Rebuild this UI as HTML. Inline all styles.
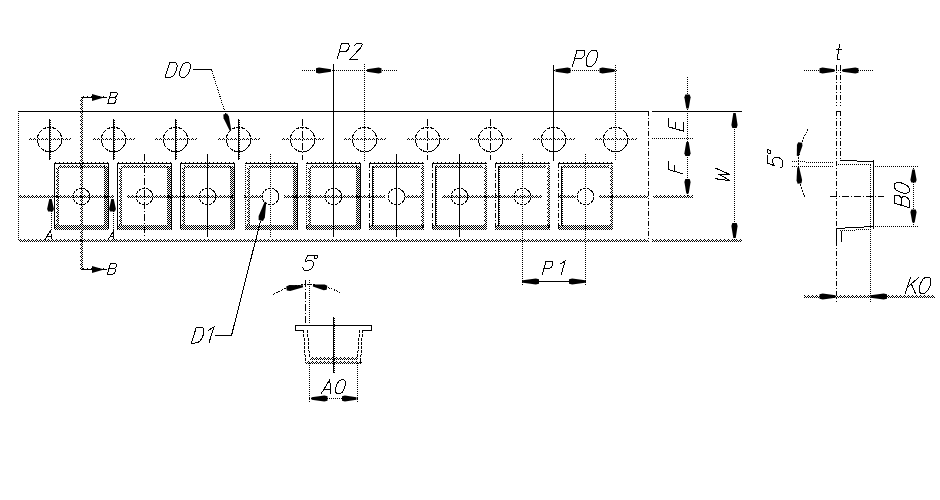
<!DOCTYPE html>
<html><head><meta charset="utf-8"><style>
html,body{margin:0;padding:0;background:#fff;width:940px;height:500px;overflow:hidden}
svg{display:block}
.g path{fill:none;stroke:#000;stroke-width:1;vector-effect:non-scaling-stroke}
</style></head><body>
<svg width="940" height="500" viewBox="0 0 940 500" shape-rendering="crispEdges">
<defs>
<pattern id="chk" width="2" height="2" patternUnits="userSpaceOnUse"><rect x="0" y="0" width="1" height="1"/><rect x="1" y="1" width="1" height="1"/></pattern>
<pattern id="hz0" x="0" y="0" width="4" height="3" patternUnits="userSpaceOnUse"><rect x="0" y="0" width="1" height="1"/><rect x="1" y="1" width="1" height="1"/><rect x="3" y="1" width="1" height="1"/><rect x="0" y="2" width="1" height="1"/><rect x="2" y="2" width="1" height="1"/></pattern><pattern id="hz1" x="0" y="1" width="4" height="3" patternUnits="userSpaceOnUse"><rect x="0" y="0" width="1" height="1"/><rect x="1" y="1" width="1" height="1"/><rect x="3" y="1" width="1" height="1"/><rect x="0" y="2" width="1" height="1"/><rect x="2" y="2" width="1" height="1"/></pattern><pattern id="hz2" x="0" y="2" width="4" height="3" patternUnits="userSpaceOnUse"><rect x="0" y="0" width="1" height="1"/><rect x="1" y="1" width="1" height="1"/><rect x="3" y="1" width="1" height="1"/><rect x="0" y="2" width="1" height="1"/><rect x="2" y="2" width="1" height="1"/></pattern><pattern id="vz0" x="0" y="0" width="3" height="4" patternUnits="userSpaceOnUse"><rect x="0" y="0" width="1" height="1"/><rect x="1" y="1" width="1" height="1"/><rect x="1" y="3" width="1" height="1"/><rect x="2" y="0" width="1" height="1"/><rect x="2" y="2" width="1" height="1"/></pattern><pattern id="vz1" x="1" y="0" width="3" height="4" patternUnits="userSpaceOnUse"><rect x="0" y="0" width="1" height="1"/><rect x="1" y="1" width="1" height="1"/><rect x="1" y="3" width="1" height="1"/><rect x="2" y="0" width="1" height="1"/><rect x="2" y="2" width="1" height="1"/></pattern><pattern id="vz2" x="2" y="0" width="3" height="4" patternUnits="userSpaceOnUse"><rect x="0" y="0" width="1" height="1"/><rect x="1" y="1" width="1" height="1"/><rect x="1" y="3" width="1" height="1"/><rect x="2" y="0" width="1" height="1"/><rect x="2" y="2" width="1" height="1"/></pattern><pattern id="hc0" x="0" y="0" width="4" height="3" patternUnits="userSpaceOnUse"><rect x="0" y="0" width="1" height="1"/><rect x="2" y="0" width="1" height="1"/><rect x="0" y="1" width="1" height="1"/><rect x="1" y="1" width="1" height="1"/><rect x="3" y="1" width="1" height="1"/><rect x="2" y="2" width="1" height="1"/></pattern><pattern id="hc1" x="0" y="1" width="4" height="3" patternUnits="userSpaceOnUse"><rect x="0" y="0" width="1" height="1"/><rect x="2" y="0" width="1" height="1"/><rect x="0" y="1" width="1" height="1"/><rect x="1" y="1" width="1" height="1"/><rect x="3" y="1" width="1" height="1"/><rect x="2" y="2" width="1" height="1"/></pattern><pattern id="hc2" x="0" y="2" width="4" height="3" patternUnits="userSpaceOnUse"><rect x="0" y="0" width="1" height="1"/><rect x="2" y="0" width="1" height="1"/><rect x="0" y="1" width="1" height="1"/><rect x="1" y="1" width="1" height="1"/><rect x="3" y="1" width="1" height="1"/><rect x="2" y="2" width="1" height="1"/></pattern><pattern id="vc0" x="0" y="0" width="3" height="4" patternUnits="userSpaceOnUse"><rect x="0" y="0" width="1" height="1"/><rect x="0" y="2" width="1" height="1"/><rect x="1" y="0" width="1" height="1"/><rect x="1" y="1" width="1" height="1"/><rect x="1" y="3" width="1" height="1"/><rect x="2" y="2" width="1" height="1"/></pattern><pattern id="vc1" x="1" y="0" width="3" height="4" patternUnits="userSpaceOnUse"><rect x="0" y="0" width="1" height="1"/><rect x="0" y="2" width="1" height="1"/><rect x="1" y="0" width="1" height="1"/><rect x="1" y="1" width="1" height="1"/><rect x="1" y="3" width="1" height="1"/><rect x="2" y="2" width="1" height="1"/></pattern><pattern id="vc2" x="2" y="0" width="3" height="4" patternUnits="userSpaceOnUse"><rect x="0" y="0" width="1" height="1"/><rect x="0" y="2" width="1" height="1"/><rect x="1" y="0" width="1" height="1"/><rect x="1" y="1" width="1" height="1"/><rect x="1" y="3" width="1" height="1"/><rect x="2" y="2" width="1" height="1"/></pattern>
</defs>
<line x1="18" y1="111.5" x2="648" y2="111.5" stroke="#000"/>
<line x1="18.5" y1="111" x2="18.5" y2="241" stroke="#000" stroke-dasharray="1 1"/>
<rect x="19" y="239" width="629" height="3" fill="url(#hz2)"/>
<line x1="648.5" y1="111" x2="648.5" y2="242" stroke="#000" stroke-dasharray="5 2 1 2"/>
<circle cx="49.5" cy="139.5" r="12.2" fill="none" stroke="#000" stroke-dasharray="4 1"/>
<line x1="29" y1="139.5" x2="71" y2="139.5" stroke="#000" stroke-dasharray="1 1"/>
<line x1="30" y1="138.5" x2="71" y2="138.5" stroke="#000" stroke-dasharray="1 3"/>
<line x1="49.5" y1="119" x2="49.5" y2="160" stroke="#000"/>
<line x1="50.5" y1="120" x2="50.5" y2="160" stroke="#000" stroke-dasharray="1 1"/>
<circle cx="113.5" cy="139.5" r="12.2" fill="none" stroke="#000" stroke-dasharray="4 1"/>
<line x1="93" y1="139.5" x2="135" y2="139.5" stroke="#000" stroke-dasharray="1 1"/>
<line x1="94" y1="138.5" x2="135" y2="138.5" stroke="#000" stroke-dasharray="1 3"/>
<line x1="113.5" y1="119" x2="113.5" y2="160" stroke="#000"/>
<line x1="114.5" y1="120" x2="114.5" y2="160" stroke="#000" stroke-dasharray="1 1"/>
<circle cx="175.5" cy="139.5" r="12.2" fill="none" stroke="#000" stroke-dasharray="4 1"/>
<line x1="155" y1="139.5" x2="197" y2="139.5" stroke="#000" stroke-dasharray="1 1"/>
<line x1="156" y1="138.5" x2="197" y2="138.5" stroke="#000" stroke-dasharray="1 3"/>
<line x1="175.5" y1="119" x2="175.5" y2="160" stroke="#000"/>
<line x1="176.5" y1="120" x2="176.5" y2="160" stroke="#000" stroke-dasharray="1 1"/>
<circle cx="238.5" cy="139.5" r="12.2" fill="none" stroke="#000" stroke-dasharray="4 1"/>
<line x1="218" y1="139.5" x2="260" y2="139.5" stroke="#000" stroke-dasharray="1 1"/>
<line x1="219" y1="138.5" x2="260" y2="138.5" stroke="#000" stroke-dasharray="1 3"/>
<line x1="238.5" y1="119" x2="238.5" y2="160" stroke="#000"/>
<line x1="239.5" y1="120" x2="239.5" y2="160" stroke="#000" stroke-dasharray="1 1"/>
<circle cx="302.5" cy="139.5" r="12.2" fill="none" stroke="#000" stroke-dasharray="4 1"/>
<line x1="282" y1="139.5" x2="324" y2="139.5" stroke="#000" stroke-dasharray="1 1"/>
<line x1="283" y1="138.5" x2="324" y2="138.5" stroke="#000" stroke-dasharray="1 3"/>
<line x1="302.5" y1="119" x2="302.5" y2="160" stroke="#000" stroke-dasharray="7 2 1 2"/>
<circle cx="364.5" cy="139.5" r="12.2" fill="none" stroke="#000" stroke-dasharray="4 1"/>
<line x1="344" y1="139.5" x2="386" y2="139.5" stroke="#000" stroke-dasharray="1 1"/>
<line x1="345" y1="138.5" x2="386" y2="138.5" stroke="#000" stroke-dasharray="1 3"/>
<circle cx="427.5" cy="139.5" r="12.2" fill="none" stroke="#000" stroke-dasharray="4 1"/>
<line x1="407" y1="139.5" x2="449" y2="139.5" stroke="#000" stroke-dasharray="1 1"/>
<line x1="408" y1="138.5" x2="449" y2="138.5" stroke="#000" stroke-dasharray="1 3"/>
<line x1="427.5" y1="119" x2="427.5" y2="160" stroke="#000" stroke-dasharray="7 2 1 2"/>
<circle cx="490.5" cy="139.5" r="12.2" fill="none" stroke="#000" stroke-dasharray="4 1"/>
<line x1="470" y1="139.5" x2="512" y2="139.5" stroke="#000" stroke-dasharray="1 1"/>
<line x1="471" y1="138.5" x2="512" y2="138.5" stroke="#000" stroke-dasharray="1 3"/>
<line x1="490.5" y1="119" x2="490.5" y2="160" stroke="#000" stroke-dasharray="7 2 1 2"/>
<circle cx="553.5" cy="139.5" r="12.2" fill="none" stroke="#000" stroke-dasharray="4 1"/>
<line x1="533" y1="139.5" x2="575" y2="139.5" stroke="#000" stroke-dasharray="1 1"/>
<line x1="534" y1="138.5" x2="575" y2="138.5" stroke="#000" stroke-dasharray="1 3"/>
<circle cx="615.5" cy="139.5" r="12.2" fill="none" stroke="#000" stroke-dasharray="4 1"/>
<line x1="595" y1="139.5" x2="637" y2="139.5" stroke="#000" stroke-dasharray="1 1"/>
<line x1="596" y1="138.5" x2="637" y2="138.5" stroke="#000" stroke-dasharray="1 3"/>
<line x1="54" y1="163.5" x2="109" y2="163.5" stroke="#000"/>
<line x1="55" y1="162.5" x2="109" y2="162.5" stroke="#000" stroke-dasharray="1 3"/>
<line x1="54.5" y1="163" x2="54.5" y2="229" stroke="#000"/>
<line x1="108.5" y1="163" x2="108.5" y2="229" stroke="#000"/>
<rect x="58" y="165" width="47" height="3" fill="url(#hz0)"/>
<rect x="56" y="168" width="3" height="57" fill="url(#vz2)"/>
<rect x="54" y="225" width="55" height="5" fill="url(#chk)"/>
<rect x="104" y="166" width="4" height="62" fill="url(#chk)"/>
<circle cx="81.5" cy="196.5" r="8.2" fill="none" stroke="#000" stroke-dasharray="3 1"/>
<line x1="117" y1="163.5" x2="172" y2="163.5" stroke="#000"/>
<line x1="118" y1="162.5" x2="172" y2="162.5" stroke="#000" stroke-dasharray="1 3"/>
<line x1="117.5" y1="163" x2="117.5" y2="229" stroke="#000"/>
<line x1="171.5" y1="163" x2="171.5" y2="229" stroke="#000"/>
<rect x="121" y="165" width="47" height="3" fill="url(#hz0)"/>
<rect x="119" y="168" width="3" height="57" fill="url(#vz2)"/>
<rect x="117" y="225" width="55" height="5" fill="url(#chk)"/>
<rect x="167" y="166" width="4" height="62" fill="url(#chk)"/>
<line x1="144.5" y1="154" x2="144.5" y2="237" stroke="#000" stroke-dasharray="7 2 1 2"/>
<circle cx="144.5" cy="196.5" r="8.2" fill="none" stroke="#000" stroke-dasharray="3 1"/>
<line x1="180" y1="163.5" x2="235" y2="163.5" stroke="#000"/>
<line x1="181" y1="162.5" x2="235" y2="162.5" stroke="#000" stroke-dasharray="1 3"/>
<line x1="180.5" y1="163" x2="180.5" y2="229" stroke="#000"/>
<line x1="234.5" y1="163" x2="234.5" y2="229" stroke="#000"/>
<rect x="184" y="165" width="47" height="3" fill="url(#hz0)"/>
<rect x="182" y="168" width="3" height="57" fill="url(#vz2)"/>
<rect x="180" y="225" width="55" height="5" fill="url(#chk)"/>
<rect x="230" y="166" width="4" height="62" fill="url(#chk)"/>
<line x1="207.5" y1="154" x2="207.5" y2="237" stroke="#000"/>
<circle cx="207.5" cy="196.5" r="8.2" fill="none" stroke="#000" stroke-dasharray="3 1"/>
<line x1="245" y1="163.5" x2="298" y2="163.5" stroke="#000"/>
<line x1="246" y1="162.5" x2="298" y2="162.5" stroke="#000" stroke-dasharray="1 3"/>
<line x1="245.5" y1="163" x2="245.5" y2="229" stroke="#000" stroke-dasharray="1 1"/>
<line x1="297.5" y1="163" x2="297.5" y2="229" stroke="#000"/>
<rect x="249" y="165" width="45" height="3" fill="url(#hz0)"/>
<rect x="247" y="168" width="3" height="57" fill="url(#vz1)"/>
<rect x="245" y="225" width="53" height="5" fill="url(#chk)"/>
<rect x="293" y="166" width="4" height="62" fill="url(#chk)"/>
<line x1="270.5" y1="154" x2="270.5" y2="237" stroke="#000" stroke-dasharray="1 1"/>
<circle cx="270.5" cy="196.5" r="8.2" fill="none" stroke="#000" stroke-dasharray="3 1"/>
<line x1="306" y1="163.5" x2="361" y2="163.5" stroke="#000"/>
<line x1="307" y1="162.5" x2="361" y2="162.5" stroke="#000" stroke-dasharray="1 3"/>
<line x1="306.5" y1="163" x2="306.5" y2="229" stroke="#000" stroke-dasharray="1 1"/>
<line x1="360.5" y1="163" x2="360.5" y2="229" stroke="#000"/>
<rect x="310" y="165" width="47" height="3" fill="url(#hz0)"/>
<rect x="308" y="168" width="3" height="57" fill="url(#vz2)"/>
<rect x="306" y="225" width="55" height="5" fill="url(#chk)"/>
<rect x="356" y="166" width="4" height="62" fill="url(#chk)"/>
<line x1="333.5" y1="154" x2="333.5" y2="237" stroke="#000"/>
<circle cx="333.5" cy="196.5" r="8.2" fill="none" stroke="#000" stroke-dasharray="3 1"/>
<line x1="369" y1="163.5" x2="424" y2="163.5" stroke="#000"/>
<line x1="370" y1="162.5" x2="424" y2="162.5" stroke="#000" stroke-dasharray="1 3"/>
<line x1="369.5" y1="163" x2="369.5" y2="229" stroke="#000" stroke-dasharray="5 2 1 2"/>
<rect x="373" y="165" width="47" height="3" fill="url(#hz0)"/>
<rect x="421" y="165" width="3" height="63" fill="url(#vz1)"/>
<rect x="369" y="225" width="55" height="5" fill="url(#chk)"/>
<line x1="372.5" y1="166" x2="372.5" y2="226" stroke="#000"/>
<line x1="373.5" y1="167" x2="373.5" y2="226" stroke="#000" stroke-dasharray="1 1"/>
<line x1="396.5" y1="154" x2="396.5" y2="237" stroke="#000"/>
<circle cx="396.5" cy="196.5" r="8.2" fill="none" stroke="#000" stroke-dasharray="3 1"/>
<line x1="432" y1="163.5" x2="487" y2="163.5" stroke="#000"/>
<line x1="433" y1="162.5" x2="487" y2="162.5" stroke="#000" stroke-dasharray="1 3"/>
<line x1="432.5" y1="163" x2="432.5" y2="229" stroke="#000" stroke-dasharray="5 2 1 2"/>
<rect x="436" y="165" width="47" height="3" fill="url(#hz0)"/>
<rect x="484" y="165" width="3" height="63" fill="url(#vz1)"/>
<rect x="432" y="225" width="55" height="5" fill="url(#chk)"/>
<line x1="435.5" y1="166" x2="435.5" y2="226" stroke="#000"/>
<line x1="436.5" y1="167" x2="436.5" y2="226" stroke="#000" stroke-dasharray="1 1"/>
<line x1="459.5" y1="154" x2="459.5" y2="237" stroke="#000"/>
<circle cx="459.5" cy="196.5" r="8.2" fill="none" stroke="#000" stroke-dasharray="3 1"/>
<line x1="495" y1="163.5" x2="550" y2="163.5" stroke="#000"/>
<line x1="496" y1="162.5" x2="550" y2="162.5" stroke="#000" stroke-dasharray="1 3"/>
<line x1="495.5" y1="163" x2="495.5" y2="229" stroke="#000" stroke-dasharray="5 2 1 2"/>
<rect x="499" y="165" width="47" height="3" fill="url(#hz0)"/>
<rect x="547" y="165" width="3" height="63" fill="url(#vz1)"/>
<rect x="495" y="225" width="55" height="5" fill="url(#chk)"/>
<line x1="498.5" y1="166" x2="498.5" y2="226" stroke="#000"/>
<line x1="499.5" y1="167" x2="499.5" y2="226" stroke="#000" stroke-dasharray="1 1"/>
<line x1="522.5" y1="154" x2="522.5" y2="237" stroke="#000" stroke-dasharray="1 1"/>
<circle cx="522.5" cy="196.5" r="8.2" fill="none" stroke="#000" stroke-dasharray="3 1"/>
<line x1="558" y1="163.5" x2="613" y2="163.5" stroke="#000"/>
<line x1="559" y1="162.5" x2="613" y2="162.5" stroke="#000" stroke-dasharray="1 3"/>
<line x1="558.5" y1="163" x2="558.5" y2="229" stroke="#000" stroke-dasharray="5 2 1 2"/>
<rect x="562" y="165" width="47" height="3" fill="url(#hz0)"/>
<rect x="610" y="165" width="3" height="63" fill="url(#vz1)"/>
<rect x="558" y="225" width="55" height="5" fill="url(#chk)"/>
<line x1="561.5" y1="166" x2="561.5" y2="226" stroke="#000"/>
<line x1="562.5" y1="167" x2="562.5" y2="226" stroke="#000" stroke-dasharray="1 1"/>
<line x1="585.5" y1="154" x2="585.5" y2="237" stroke="#000" stroke-dasharray="1 1"/>
<circle cx="585.5" cy="196.5" r="8.2" fill="none" stroke="#000" stroke-dasharray="3 1"/>
<rect x="19" y="195" width="95" height="3" fill="url(#hz0)"/>
<rect x="127" y="195" width="106" height="3" fill="url(#hz0)"/>
<rect x="244" y="195" width="19" height="3" fill="url(#hz0)"/>
<rect x="284" y="195" width="101" height="3" fill="url(#hz0)"/>
<rect x="405" y="195" width="17" height="3" fill="url(#hz0)"/>
<rect x="442" y="195" width="100" height="3" fill="url(#hz0)"/>
<rect x="558" y="195" width="18" height="3" fill="url(#hz0)"/>
<rect x="599" y="195" width="49" height="3" fill="url(#hz0)"/>
<rect x="653" y="195" width="40" height="3" fill="url(#hz0)"/>
<rect x="80" y="97" width="3" height="173" fill="url(#vz2)"/>
<line x1="82" y1="97.5" x2="107" y2="97.5" stroke="#000"/>
<line x1="83" y1="96.5" x2="107" y2="96.5" stroke="#000" stroke-dasharray="1 3"/>
<line x1="82" y1="269.5" x2="107" y2="269.5" stroke="#000"/>
<line x1="83" y1="268.5" x2="107" y2="268.5" stroke="#000" stroke-dasharray="1 3"/>
<polygon points="104.00,97.50 92.00,94.00 92.00,101.00" fill="#000" shape-rendering="geometricPrecision"/>
<polygon points="104.00,269.50 92.00,266.00 92.00,273.00" fill="#000" shape-rendering="geometricPrecision"/>
<g transform="translate(107.7,103.8) skewX(-16) scale(11.8,11.8)" class="g"><path transform="translate(0.000,0)" d="M0,0 L0,-1 L0.34,-1 C0.52,-1 0.58,-0.9 0.58,-0.76 C0.58,-0.6 0.5,-0.53 0.34,-0.53 L0,-0.53 M0.34,-0.53 C0.54,-0.53 0.62,-0.42 0.62,-0.27 C0.62,-0.1 0.54,0 0.34,0 L0,0"/></g>
<g transform="translate(107.2,274.6) skewX(-16) scale(11.6,11.6)" class="g"><path transform="translate(0.000,0)" d="M0,0 L0,-1 L0.34,-1 C0.52,-1 0.58,-0.9 0.58,-0.76 C0.58,-0.6 0.5,-0.53 0.34,-0.53 L0,-0.53 M0.34,-0.53 C0.54,-0.53 0.62,-0.42 0.62,-0.27 C0.62,-0.1 0.54,0 0.34,0 L0,0"/></g>
<polygon points="49.30,199.00 51.70,199.00 53.90,209.00 52.88,211.50 48.12,211.50 47.10,209.00" fill="#000" shape-rendering="geometricPrecision"/>
<line x1="51.5" y1="211" x2="51.5" y2="231" stroke="#000" stroke-dasharray="1 1"/>
<g transform="translate(45,239.5) skewX(-16) scale(9.5,9.5)" class="g"><path transform="translate(0.000,0)" d="M0,0 L0.33,-1 L0.66,0 M0.12,-0.34 L0.54,-0.34"/></g>
<polygon points="111.30,199.00 113.70,199.00 115.90,209.00 114.88,211.50 110.12,211.50 109.10,209.00" fill="#000" shape-rendering="geometricPrecision"/>
<line x1="113.5" y1="211" x2="113.5" y2="231" stroke="#000" stroke-dasharray="1 1"/>
<g transform="translate(108,240) skewX(-16) scale(9.2,9.2)" class="g"><path transform="translate(0.000,0)" d="M0,0 L0.33,-1 L0.66,0 M0.12,-0.34 L0.54,-0.34"/></g>
<g transform="translate(165,77.7) skewX(-17) scale(15.6,15.6)" class="g"><path transform="translate(0.000,0)" d="M0,0 L0,-1 L0.25,-1 C0.48,-1 0.58,-0.8 0.58,-0.5 C0.58,-0.2 0.46,0 0.22,0 Z"/><path transform="translate(0.820,0)" d="M0.31,-1 C0.5,-1 0.62,-0.8 0.62,-0.5 C0.62,-0.2 0.5,0 0.31,0 C0.12,0 0,-0.2 0,-0.5 C0,-0.8 0.12,-1 0.31,-1 Z"/></g>
<line x1="193" y1="69.5" x2="212" y2="69.5" stroke="#000"/>
<line x1="211.5" y1="69.5" x2="229" y2="125" stroke="#000" stroke-dasharray="1 1" stroke-width="1"/>
<polygon points="231.26,130.26 229.74,130.74 223.59,118.16 223.33,114.60 227.07,113.40 228.93,116.44" fill="#000" shape-rendering="geometricPrecision"/>
<g transform="translate(191.5,343) skewX(-17) scale(16.0,16)" class="g"><path transform="translate(0.000,0)" d="M0,0 L0,-1 L0.25,-1 C0.48,-1 0.58,-0.8 0.58,-0.5 C0.58,-0.2 0.46,0 0.22,0 Z"/><path transform="translate(0.740,0)" d="M0.05,-0.78 L0.35,-1 L0.35,0"/></g>
<line x1="215" y1="335.5" x2="232" y2="335.5" stroke="#000"/>
<line x1="231.5" y1="335.5" x2="260.5" y2="221" stroke="#000" stroke-width="1"/>
<polygon points="264.72,201.80 266.28,202.20 264.84,217.59 262.97,221.05 258.63,219.95 258.64,216.01" fill="#000" shape-rendering="geometricPrecision"/>
<g transform="translate(337.2,59.4) skewX(-15) scale(16.2,16.2)" class="g"><path transform="translate(0.000,0)" d="M0,0 L0,-1 L0.3,-1 C0.46,-1 0.53,-0.9 0.53,-0.74 C0.53,-0.57 0.46,-0.48 0.3,-0.48 L0,-0.48"/><path transform="translate(0.780,0)" d="M0.05,-0.82 C0.1,-0.94 0.18,-1 0.28,-1 L0.42,-1 C0.48,-1 0.52,-0.96 0.52,-0.88 C0.52,-0.78 0.47,-0.68 0.38,-0.58 L0,0 L0.5,0"/></g>
<line x1="302" y1="70.5" x2="398" y2="70.5" stroke="#000" stroke-dasharray="1 1"/>
<line x1="333.5" y1="64" x2="333.5" y2="161" stroke="#000"/>
<line x1="364.5" y1="64" x2="364.5" y2="161" stroke="#000" stroke-dasharray="1 1"/>
<polygon points="331.00,69.30 331.00,71.70 319.00,73.60 316.00,72.67 316.00,68.33 319.00,67.40" fill="#000" shape-rendering="geometricPrecision"/>
<polygon points="367.00,69.30 367.00,71.70 378.60,73.60 381.50,72.67 381.50,68.33 378.60,67.40" fill="#000" shape-rendering="geometricPrecision"/>
<g transform="translate(572.25,66.6) skewX(-16.5) scale(16.6,16.6)" class="g"><path transform="translate(0.000,0)" d="M0,0 L0,-1 L0.3,-1 C0.46,-1 0.53,-0.9 0.53,-0.74 C0.53,-0.57 0.46,-0.48 0.3,-0.48 L0,-0.48"/><path transform="translate(0.720,0)" d="M0.31,-1 C0.5,-1 0.62,-0.8 0.62,-0.5 C0.62,-0.2 0.5,0 0.31,0 C0.12,0 0,-0.2 0,-0.5 C0,-0.8 0.12,-1 0.31,-1 Z"/></g>
<line x1="554" y1="70.5" x2="617" y2="70.5" stroke="#000" stroke-dasharray="1 1"/>
<line x1="553.5" y1="65" x2="553.5" y2="161" stroke="#000"/>
<line x1="615.5" y1="65" x2="615.5" y2="161" stroke="#000" stroke-dasharray="1 1"/>
<polygon points="555.50,69.30 555.50,71.70 567.50,73.60 570.50,72.67 570.50,68.33 567.50,67.40" fill="#000" shape-rendering="geometricPrecision"/>
<polygon points="614.50,69.30 614.50,71.70 602.50,73.60 599.50,72.67 599.50,68.33 602.50,67.40" fill="#000" shape-rendering="geometricPrecision"/>
<g transform="translate(542,275.4) skewX(-16) scale(14.3,14.3)" class="g"><path transform="translate(0.000,0)" d="M0,0 L0,-1 L0.3,-1 C0.46,-1 0.53,-0.9 0.53,-0.74 C0.53,-0.57 0.46,-0.48 0.3,-0.48 L0,-0.48"/><path transform="translate(0.980,0)" d="M0.05,-0.78 L0.35,-1 L0.35,0"/></g>
<line x1="522" y1="281.5" x2="586" y2="281.5" stroke="#000"/>
<line x1="522.5" y1="236" x2="522.5" y2="286" stroke="#000" stroke-dasharray="1 1"/>
<line x1="585.5" y1="236" x2="585.5" y2="286" stroke="#000" stroke-dasharray="1 1"/>
<polygon points="523.00,280.30 523.00,282.70 535.80,284.60 539.00,283.67 539.00,279.33 535.80,278.40" fill="#000" shape-rendering="geometricPrecision"/>
<polygon points="585.00,280.30 585.00,282.70 572.20,284.60 569.00,283.67 569.00,279.33 572.20,278.40" fill="#000" shape-rendering="geometricPrecision"/>
<line x1="652" y1="111.5" x2="742" y2="111.5" stroke="#000"/>
<line x1="652" y1="138.5" x2="693" y2="138.5" stroke="#000" stroke-dasharray="1 1"/>
<rect x="652" y="239" width="90" height="3" fill="url(#hz2)"/>
<line x1="687.5" y1="77" x2="687.5" y2="197" stroke="#000" stroke-dasharray="1 1"/>
<polygon points="686.30,108.50 688.70,108.50 690.60,97.30 689.67,94.50 685.33,94.50 684.40,97.30" fill="#000" shape-rendering="geometricPrecision"/>
<polygon points="686.30,142.00 688.70,142.00 690.60,153.20 689.67,156.00 685.33,156.00 684.40,153.20" fill="#000" shape-rendering="geometricPrecision"/>
<polygon points="686.30,193.50 688.70,193.50 690.60,181.90 689.67,179.00 685.33,179.00 684.40,181.90" fill="#000" shape-rendering="geometricPrecision"/>
<line x1="734.5" y1="111" x2="734.5" y2="240" stroke="#000" stroke-dasharray="1 1"/>
<polygon points="733.30,113.00 735.70,113.00 737.60,125.00 736.67,128.00 732.33,128.00 731.40,125.00" fill="#000" shape-rendering="geometricPrecision"/>
<polygon points="733.30,238.00 735.70,238.00 737.60,226.00 736.67,223.00 732.33,223.00 731.40,226.00" fill="#000" shape-rendering="geometricPrecision"/>
<g transform="translate(683,131) rotate(-90) skewX(-16) scale(15.0,15)" class="g"><path transform="translate(0.000,0)" d="M0.58,-1 L0,-1 L0,0 L0.58,0 M0,-0.52 L0.48,-0.52"/></g>
<g transform="translate(682.5,173.7) rotate(-90) skewX(-16) scale(14.5,14.5)" class="g"><path transform="translate(0.000,0)" d="M0.58,-1 L0,-1 L0,0 M0,-0.52 L0.48,-0.52"/></g>
<g transform="translate(730,183) rotate(-90) skewX(-16) scale(12.0,15)" class="g"><path transform="translate(0.000,0)" d="M0,-1 L0.2,0 L0.45,-0.7 L0.7,0 L0.9,-1"/></g>
<g transform="translate(834.5,60) skewX(-10) scale(16.0,16)" class="g"><path transform="translate(0.000,0)" d="M0.15,-1 L0.15,-0.12 C0.15,-0.02 0.22,0 0.32,0 M0,-0.65 L0.33,-0.65"/></g>
<line x1="804" y1="70.5" x2="874" y2="70.5" stroke="#000" stroke-dasharray="1 1"/>
<polygon points="834.50,69.30 834.50,71.70 822.50,73.60 819.50,72.67 819.50,68.33 822.50,67.40" fill="#000" shape-rendering="geometricPrecision"/>
<polygon points="842.50,69.30 842.50,71.70 855.30,73.60 858.50,72.67 858.50,68.33 855.30,67.40" fill="#000" shape-rendering="geometricPrecision"/>
<line x1="836.5" y1="65" x2="836.5" y2="106" stroke="#000" stroke-dasharray="5 2 1 2"/>
<line x1="840.5" y1="65" x2="840.5" y2="106" stroke="#000" stroke-dasharray="5 2 1 2"/>
<line x1="836.5" y1="111" x2="836.5" y2="302" stroke="#000" stroke-dasharray="5 2 1 2"/>
<line x1="840.5" y1="111" x2="840.5" y2="161" stroke="#000" stroke-dasharray="5 2 1 2"/>
<line x1="836" y1="111.5" x2="841" y2="111.5" stroke="#000"/>
<line x1="840" y1="160.5" x2="873" y2="161.5" stroke="#000" stroke-width="1"/>
<line x1="836" y1="164" x2="871" y2="165" stroke="#000" stroke-dasharray="1 1" stroke-width="1"/>
<line x1="873.5" y1="160" x2="873.5" y2="229" stroke="#000"/>
<line x1="870.5" y1="165" x2="870.5" y2="302" stroke="#000" stroke-dasharray="1 1"/>
<line x1="836" y1="228.5" x2="874" y2="226.5" stroke="#000" stroke-width="1"/>
<line x1="840" y1="231" x2="870" y2="229" stroke="#000" stroke-dasharray="1 1" stroke-width="1"/>
<line x1="836.5" y1="228" x2="836.5" y2="242" stroke="#000"/>
<line x1="841.5" y1="231" x2="841.5" y2="242" stroke="#000"/>
<line x1="873" y1="166.5" x2="919" y2="166.5" stroke="#000" stroke-dasharray="1 1"/>
<line x1="873" y1="226.5" x2="919" y2="226.5" stroke="#000" stroke-dasharray="1 1"/>
<line x1="830" y1="196.5" x2="884" y2="196.5" stroke="#000" stroke-dasharray="7 2 1 2"/>
<line x1="913.5" y1="166" x2="913.5" y2="227" stroke="#000" stroke-dasharray="1 1"/>
<polygon points="912.30,169.50 914.70,169.50 916.60,179.90 915.67,182.50 911.33,182.50 910.40,179.90" fill="#000" shape-rendering="geometricPrecision"/>
<polygon points="912.30,222.50 914.70,222.50 916.60,212.10 915.67,209.50 911.33,209.50 910.40,212.10" fill="#000" shape-rendering="geometricPrecision"/>
<g transform="translate(909.5,207.6) rotate(-90) skewX(-16) scale(15.5,15.5)" class="g"><path transform="translate(0.000,0)" d="M0,0 L0,-1 L0.34,-1 C0.52,-1 0.58,-0.9 0.58,-0.76 C0.58,-0.6 0.5,-0.53 0.34,-0.53 L0,-0.53 M0.34,-0.53 C0.54,-0.53 0.62,-0.42 0.62,-0.27 C0.62,-0.1 0.54,0 0.34,0 L0,0"/><path transform="translate(0.820,0)" d="M0.31,-1 C0.5,-1 0.62,-0.8 0.62,-0.5 C0.62,-0.2 0.5,0 0.31,0 C0.12,0 0,-0.2 0,-0.5 C0,-0.8 0.12,-1 0.31,-1 Z"/></g>
<line x1="792" y1="161.5" x2="834" y2="163" stroke="#000" stroke-dasharray="1 1" stroke-width="1"/>
<line x1="792" y1="166.5" x2="833" y2="166.5" stroke="#000" stroke-dasharray="1 1"/>
<path d="M808,129 Q790,162 805,197" fill="none" stroke="#000" stroke-dasharray="2 1"/>
<polygon points="798.78,156.18 796.82,155.82 796.96,144.71 798.27,142.16 802.13,142.84 802.48,145.69" fill="#000" shape-rendering="geometricPrecision"/>
<polygon points="797.20,167.59 799.20,167.41 802.11,180.06 801.55,183.33 797.65,183.67 796.53,180.54" fill="#000" shape-rendering="geometricPrecision"/>
<g transform="translate(783,168.7) rotate(-90) skewX(-16) scale(16.0,16)" class="g"><path transform="translate(0.000,0)" d="M0.58,-1 L0.08,-1 L0.03,-0.56 C0.13,-0.62 0.24,-0.64 0.32,-0.64 C0.5,-0.64 0.62,-0.52 0.62,-0.33 C0.62,-0.12 0.5,0 0.3,0 C0.15,0 0.04,-0.07 0,-0.2"/><path transform="translate(0.680,0)" d="M0.12,-1 C0.2,-1 0.24,-0.96 0.24,-0.88 C0.24,-0.8 0.2,-0.76 0.12,-0.76 C0.04,-0.76 0,-0.8 0,-0.88 C0,-0.96 0.04,-1 0.12,-1 Z"/></g>
<rect x="804" y="295" width="131" height="3" fill="url(#hz1)"/>
<polygon points="835.50,295.30 835.50,297.70 822.70,299.60 819.50,298.67 819.50,294.33 822.70,293.40" fill="#000" shape-rendering="geometricPrecision"/>
<polygon points="870.50,295.30 870.50,297.70 883.70,299.60 887.00,298.67 887.00,294.33 883.70,293.40" fill="#000" shape-rendering="geometricPrecision"/>
<g transform="translate(905.2,293.6) skewX(-18) scale(16.6,16.6)" class="g"><path transform="translate(0.000,0)" d="M0,0 L0,-1 M0.52,-1 L0,-0.38 M0.18,-0.58 L0.62,0"/><path transform="translate(0.720,0)" d="M0.31,-1 C0.5,-1 0.62,-0.8 0.62,-0.5 C0.62,-0.2 0.5,0 0.31,0 C0.12,0 0,-0.2 0,-0.5 C0,-0.8 0.12,-1 0.31,-1 Z"/></g>
<g transform="translate(302,270.6) skewX(-16) scale(15.6,15.6)" class="g"><path transform="translate(0.000,0)" d="M0.58,-1 L0.08,-1 L0.03,-0.56 C0.13,-0.62 0.24,-0.64 0.32,-0.64 C0.5,-0.64 0.62,-0.52 0.62,-0.33 C0.62,-0.12 0.5,0 0.3,0 C0.15,0 0.04,-0.07 0,-0.2"/><path transform="translate(0.530,0)" d="M0.12,-1 C0.2,-1 0.24,-0.96 0.24,-0.88 C0.24,-0.8 0.2,-0.76 0.12,-0.76 C0.04,-0.76 0,-0.8 0,-0.88 C0,-0.96 0.04,-1 0.12,-1 Z"/></g>
<path d="M273,294.5 Q305.5,275.5 340,292.5" fill="none" stroke="#000" stroke-dasharray="2 1"/>
<polygon points="302.86,285.21 303.14,287.19 290.21,291.01 286.79,290.58 286.21,286.42 289.39,285.07" fill="#000" shape-rendering="geometricPrecision"/>
<polygon points="312.84,286.59 313.16,284.61 324.67,284.40 327.33,285.73 326.67,289.87 323.73,290.32" fill="#000" shape-rendering="geometricPrecision"/>
<line x1="305.5" y1="280" x2="305.5" y2="323" stroke="#000" stroke-dasharray="7 2 1 2"/>
<line x1="309.5" y1="280" x2="309.5" y2="323" stroke="#000" stroke-dasharray="1 1"/>
<line x1="295" y1="325.5" x2="372" y2="325.5" stroke="#000"/>
<line x1="295" y1="330.5" x2="304" y2="330.5" stroke="#000"/>
<line x1="363" y1="330.5" x2="372" y2="330.5" stroke="#000"/>
<line x1="295.5" y1="325" x2="295.5" y2="331" stroke="#000"/>
<line x1="371.5" y1="325" x2="371.5" y2="331" stroke="#000"/>
<line x1="303.5" y1="330" x2="305.5" y2="363" stroke="#000" stroke-dasharray="3 1" stroke-width="1"/>
<line x1="307.5" y1="330" x2="309.5" y2="358" stroke="#000" stroke-dasharray="3 1" stroke-width="1"/>
<line x1="359.5" y1="330" x2="357.5" y2="358" stroke="#000" stroke-dasharray="3 1" stroke-width="1"/>
<line x1="362.5" y1="330" x2="360.5" y2="363" stroke="#000" stroke-dasharray="3 1" stroke-width="1"/>
<rect x="310" y="357" width="48" height="3" fill="url(#hz0)"/>
<rect x="305" y="361" width="57" height="3" fill="url(#hz1)"/>
<line x1="333.5" y1="317" x2="333.5" y2="373" stroke="#000"/>
<line x1="334.5" y1="318" x2="334.5" y2="373" stroke="#000" stroke-dasharray="1 1"/>
<line x1="309.5" y1="363" x2="309.5" y2="402" stroke="#000" stroke-dasharray="1 1"/>
<line x1="357.5" y1="363" x2="357.5" y2="402" stroke="#000" stroke-dasharray="1 1"/>
<line x1="309" y1="398.5" x2="358" y2="398.5" stroke="#000" stroke-dasharray="1 1"/>
<polygon points="311.50,397.30 311.50,399.70 324.30,401.60 327.50,400.67 327.50,396.33 324.30,395.40" fill="#000" shape-rendering="geometricPrecision"/>
<polygon points="356.50,397.30 356.50,399.70 344.90,401.60 342.00,400.67 342.00,396.33 344.90,395.40" fill="#000" shape-rendering="geometricPrecision"/>
<g transform="translate(321,394) skewX(-16) scale(14.4,14.4)" class="g"><path transform="translate(0.000,0)" d="M0,0 L0.33,-1 L0.66,0 M0.12,-0.34 L0.54,-0.34"/><path transform="translate(0.900,0)" d="M0.31,-1 C0.5,-1 0.62,-0.8 0.62,-0.5 C0.62,-0.2 0.5,0 0.31,0 C0.12,0 0,-0.2 0,-0.5 C0,-0.8 0.12,-1 0.31,-1 Z"/></g>
</svg>
</body></html>
